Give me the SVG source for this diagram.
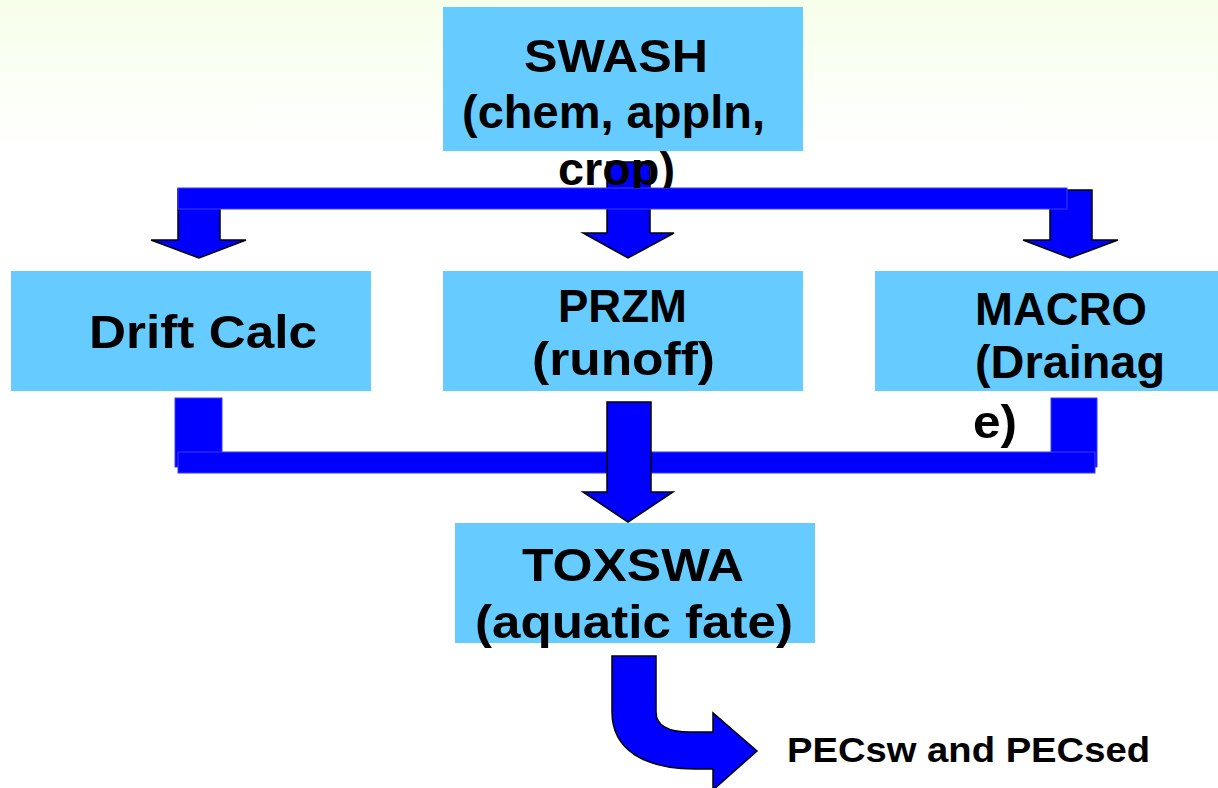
<svg xmlns="http://www.w3.org/2000/svg" width="1218" height="788" viewBox="0 0 1218 788">
<defs>
<linearGradient id="bg" x1="0" y1="0" x2="0" y2="1">
<stop offset="0" stop-color="#F6FFEA"/>
<stop offset="1" stop-color="#FFFFFF"/>
</linearGradient>
<clipPath id="swashClip"><rect x="440" y="0" width="370" height="188"/></clipPath>
<style>
.box{fill:#66CCFF;}
.t{font-family:"Liberation Sans",Arial,sans-serif;font-weight:700;font-size:47px;fill:#000;}
.s{font-size:35px;}
.arr{fill:#0000FF;stroke:#000;stroke-width:1.5;stroke-linejoin:miter;}
.bar{fill:#0000FF;stroke:#3B3BFF;stroke-width:1;}
</style>
</defs>
<rect x="0" y="0" width="1218" height="150" fill="url(#bg)"/>
<rect x="0" y="150" width="1218" height="638" fill="#FFFFFF"/>

<g id="connectors">
<polygon class="arr" points="178,189 220,189 220,240 246,240 199,258 151,240 178,240"/>
<polygon class="arr" points="607,162 650,162 650,233 674,233 628,258 583,233 607,233"/>
<polygon class="arr" points="1050,190 1092,190 1092,240 1118,240 1070,258 1023,240 1050,240"/>
<rect class="bar" x="178" y="188" width="889" height="21"/>
<rect class="bar" x="175" y="398" width="47" height="69"/>
<rect class="bar" x="1051" y="398" width="46" height="69"/>
<rect class="bar" x="178" y="452" width="917" height="21"/>
<polygon class="arr" points="607,402 651,402 651,492 673,492 628,522 583,492 607,492"/>
<path class="arr" d="M612,656 L656,656 L656,712 C656,725 666,732 690,732 L713,732 L713,713 L757,751 L713,790 L713,769 L695,769 C645,769 612,750 612,712 Z"/>
</g>

<g id="node-swash">
<rect class="box" x="443" y="7" width="360" height="144"/>
<text class="t" clip-path="url(#swashClip)"><tspan x="524" y="72" textLength="184" lengthAdjust="spacingAndGlyphs">SWASH</tspan><tspan x="462" y="128" textLength="303" lengthAdjust="spacingAndGlyphs">(chem, appln,</tspan><tspan x="558" y="185" textLength="117" lengthAdjust="spacingAndGlyphs">crop)</tspan></text>
</g>

<g id="node-drift">
<rect class="box" x="11" y="271" width="360" height="120"/>
<text class="t" x="89" y="348" textLength="228" lengthAdjust="spacingAndGlyphs">Drift Calc</text>
</g>

<g id="node-przm">
<rect class="box" x="443" y="271" width="360" height="120"/>
<text class="t"><tspan x="558" y="322" textLength="129" lengthAdjust="spacingAndGlyphs">PRZM</tspan><tspan x="532" y="375" textLength="183" lengthAdjust="spacingAndGlyphs">(runoff)</tspan></text>
</g>

<g id="node-macro">
<rect class="box" x="875" y="271" width="343" height="120"/>
<text class="t"><tspan x="975" y="325" textLength="172" lengthAdjust="spacingAndGlyphs">MACRO</tspan><tspan x="975" y="378" textLength="190" lengthAdjust="spacingAndGlyphs">(Drainag</tspan><tspan x="973" y="438" textLength="44" lengthAdjust="spacingAndGlyphs">e)</tspan></text>
</g>

<g id="node-toxswa">
<rect class="box" x="455" y="523" width="360" height="120"/>
<text class="t"><tspan x="522" y="581" textLength="222" lengthAdjust="spacingAndGlyphs">TOXSWA</tspan><tspan x="475" y="638" textLength="318" lengthAdjust="spacingAndGlyphs">(aquatic fate)</tspan></text>
</g>

<g id="node-pec">
<text class="t s" x="787" y="762" textLength="363" lengthAdjust="spacingAndGlyphs">PECsw and PECsed</text>
</g>
</svg>
